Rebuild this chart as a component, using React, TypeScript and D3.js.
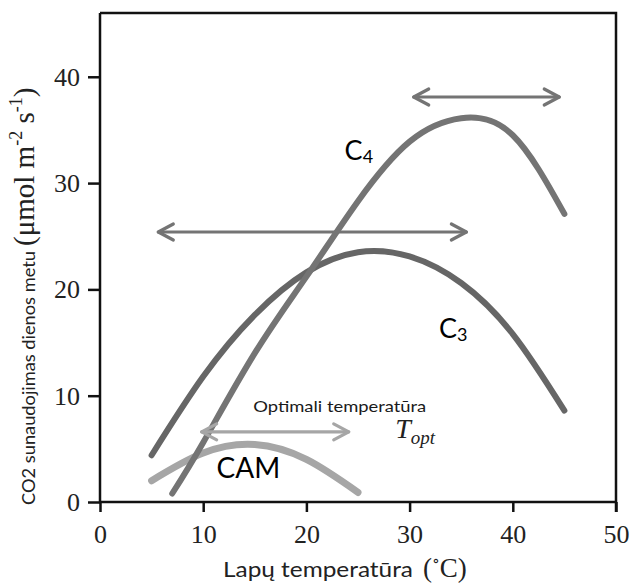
import React, { useEffect, useRef } from "react";
import * as d3 from "d3";

// leaf temperature (°C) and daytime CO2 uptake (µmol m-2 s-1)
const TEMPS_C3 = [5, 10, 15, 20, 25, 30, 35, 40, 45];
const C3 = [4.4, 11.8, 17.6, 21.6, 23.5, 23.1, 20.6, 15.8, 8.6];
const TEMPS_C4 = [7, 10, 15, 20, 25, 30, 35, 40, 45];
const C4 = [0.8, 5.6, 14.0, 21.2, 28.3, 33.9, 36.1, 34.5, 27.1];
const TEMPS_CAM = [5, 10, 15, 20, 25];
const CAM = [2.0, 4.6, 5.4, 4.0, 0.9];

// optimum-range arrows: C4, C3, CAM
const ARROW_FROM = [30.4, 5.65, 9.85];
const ARROW_TO = [44.5, 35.5, 24.1];
const ARROW_Y = [38.1, 25.4, 6.6];

const X_TICKS = [0, 10, 20, 30, 40, 50];
const Y_TICKS = [0, 10, 20, 30, 40];

const W = 632;
const H = 583;
const DARK = "#666666";
const MID = "#747474";
const LIGHT = "#a6a6a6";
const SANS = "Lato, 'Open Sans', sans-serif";
const SERIF = "'Liberation Serif', 'DejaVu Serif', serif";

const x = d3.scaleLinear().domain([0, 50]).range([100, 616]);
const y = d3.scaleLinear().domain([0, 46]).range([502, 13]);

const line = d3
  .line<[number, number]>()
  .x((d) => x(d[0]))
  .y((d) => y(d[1]))
  .curve(d3.curveNatural);

const zip = (t: number[], v: number[]) => t.map((d, i) => [d, v[i]] as [number, number]);

function Arrow({ i, color }: { i: number; color: string }) {
  const x1 = x(ARROW_FROM[i]);
  const x2 = x(ARROW_TO[i]);
  const yy = y(ARROW_Y[i]);
  const hl = 15, hw = 8;
  return (
    <g stroke={color} strokeWidth={3.2} fill="none" strokeLinecap="round" strokeLinejoin="round">
      <line x1={x1} x2={x2} y1={yy} y2={yy} />
      <polyline points={`${x1 + hl},${yy - hw} ${x1},${yy} ${x1 + hl},${yy + hw}`} />
      <polyline points={`${x2 - hl},${yy - hw} ${x2},${yy} ${x2 - hl},${yy + hw}`} />
    </g>
  );
}

export default function App() {
  const xAxisRef = useRef<SVGGElement>(null);
  const yAxisRef = useRef<SVGGElement>(null);

  useEffect(() => {
    const xa = d3.select(xAxisRef.current!);
    xa.call(d3.axisBottom(x).tickValues(X_TICKS).tickSize(10).tickSizeOuter(0).tickPadding(12.5).tickFormat(d3.format("d")));
    xa.select(".domain").remove();
    xa.selectAll("line").attr("stroke", "#111").attr("stroke-width", 2.5);
    xa.selectAll("text").attr("font-family", SERIF).attr("font-size", 26).attr("fill", "#222");

    const ya = d3.select(yAxisRef.current!);
    ya.call(d3.axisLeft(y).tickValues(Y_TICKS).tickSize(12).tickSizeOuter(0).tickPadding(8).tickFormat(d3.format("d")));
    ya.select(".domain").remove();
    ya.selectAll("line").attr("stroke", "#111").attr("stroke-width", 2.5);
    ya.selectAll("text").attr("font-family", SERIF).attr("font-size", 26).attr("fill", "#222");
  }, []);

  return (
    <svg width={W} height={H} style={{ position: "absolute", left: 0, top: 0, background: "#fff" }}>
      {/* curves */}
      <g fill="none" strokeLinecap="round">
        <path d={line(zip(TEMPS_CAM, CAM)) || ""} stroke={LIGHT} strokeWidth={7} />
        <path d={line(zip(TEMPS_C3, C3)) || ""} stroke={DARK} strokeWidth={6} />
      </g>
      <Arrow i={0} color={MID} />
      <Arrow i={1} color={MID} />
      <path d={line(zip(TEMPS_C4, C4)) || ""} fill="none" stroke={MID} strokeWidth={6} strokeLinecap="round" />
      <Arrow i={2} color={LIGHT} />

      {/* frame */}
      <path d={`M${x(0)},${y(46)} H${x(50)} V${y(0) + 10} M${x(0)},${y(46)} V${y(0)} H${x(50)}`}
        fill="none" stroke="#111" strokeWidth={2.5} />
      <g ref={xAxisRef} transform={`translate(0,${y(0)})`} />
      <g ref={yAxisRef} transform={`translate(${x(0)},0)`} />

      {/* labels */}
      <text x={x(23.7)} y={y(32.2)} fontFamily={SANS} fontSize={27} fill="#000">
        C<tspan fontSize={18} dy={3}>4</tspan>
      </text>
      <text x={x(32.85)} y={y(15.4)} fontFamily={SANS} fontSize={27} fill="#000">
        C<tspan fontSize={18} dy={3}>3</tspan>
      </text>
      <text x={x(11.3)} y={y(2.26)} fontFamily={SANS} fontSize={28} fill="#000">CAM</text>
      <text x={x(14.85)} y={y(8.47)} fontFamily={SANS} fontSize={16} fill="#1a1a1a" textLength={173} lengthAdjust="spacingAndGlyphs">
        Optimali temperatūra
      </text>
      <text x={x(28.6)} y={y(6.0)} fontFamily={SERIF} fontStyle="italic" fontSize={28} fill="#222">
        T<tspan fontSize={19} dy={6}>opt</tspan>
      </text>

      {/* axis titles */}
      <text x={223} y={577} fontFamily={SANS} fontSize={22} fill="#222" textLength={190} lengthAdjust="spacingAndGlyphs">
        Lapų temperatūra
      </text>
      <text x={423} y={577} fontFamily={SERIF} fontSize={27} fill="#222">
        (<tspan fontSize={16} dy={-11}>∘</tspan><tspan dy={11}>C)</tspan>
      </text>
      <g transform="translate(35,505) rotate(-90)">
        <text x={0} y={0} fontFamily={SANS} fontSize={18} fill="#222" textLength={254} lengthAdjust="spacingAndGlyphs">
          CO2 sunaudojimas dienos metu
        </text>
        <text x={259} y={-1} fontFamily={SERIF} fontSize={29} fill="#222">
          (μmol m<tspan fontSize={18} dy={-12}>-2</tspan>
          <tspan dy={12}> s</tspan><tspan fontSize={18} dy={-12}>-1</tspan>
          <tspan dy={12}>)</tspan>
        </text>
      </g>
    </svg>
  );
}
